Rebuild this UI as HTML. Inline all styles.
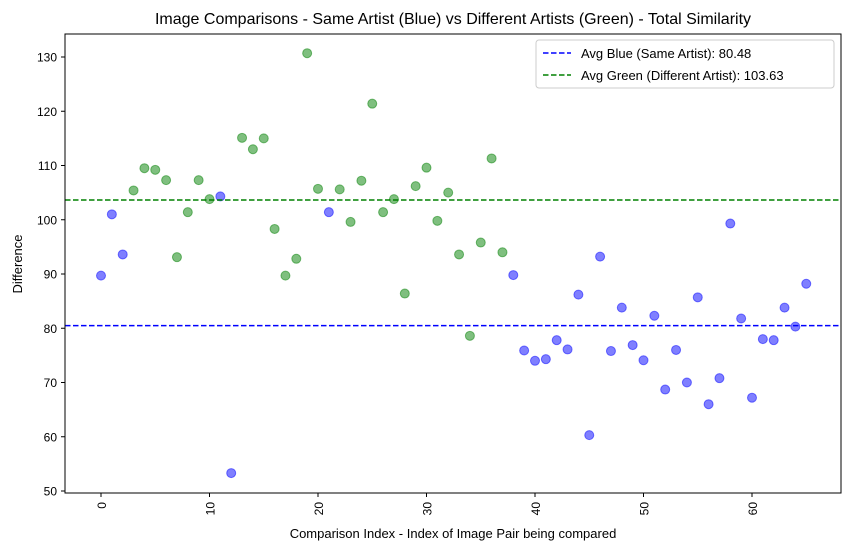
<!DOCTYPE html>
<html><head><meta charset="utf-8"><style>
body{margin:0;background:#fff;}
text{font-family:"Liberation Sans",sans-serif;fill:#000;}
</style></head><body>
<svg id="chart" width="850" height="551" xmlns="http://www.w3.org/2000/svg">
<rect width="850" height="551" fill="#fff"/>
<text x="453" y="24" font-size="16" text-anchor="middle">Image Comparisons - Same Artist (Blue) vs Different Artists (Green) - Total Similarity</text>
<text transform="translate(22,264) rotate(-90)" font-size="13" text-anchor="middle">Difference</text>
<text x="453" y="538" font-size="13" text-anchor="middle">Comparison Index - Index of Image Pair being compared</text>
<g id="axes"></g>
<g id="marks"></g>
<rect x="65" y="34" width="776" height="459" fill="none" stroke="#000" stroke-width="1"/>
<g>
<rect x="536" y="40" width="298" height="48" rx="3" fill="#fff" fill-opacity="0.8" stroke="#ccc"/>
<line x1="543" y1="53" x2="571" y2="53" stroke="#0000ff" stroke-width="1.5" stroke-dasharray="5.5,2.5"/>
<text x="581" y="58" font-size="13">Avg Blue (Same Artist): 80.48</text>
<line x1="543" y1="75" x2="571" y2="75" stroke="#008000" stroke-width="1.5" stroke-dasharray="5.5,2.5"/>
<text x="581" y="80" font-size="13">Avg Green (Different Artist): 103.63</text>
</g>
</svg>
<script>
const values=[89.7,101,93.6,105.4,109.5,109.2,107.3,93.1,101.4,107.3,103.8,104.3,53.3,115.1,113,115,98.3,89.7,92.8,130.7,105.7,101.4,105.6,99.6,107.2,121.4,101.4,103.8,86.4,106.2,109.6,99.8,105,93.6,78.6,95.8,111.3,94,89.8,75.9,74,74.3,77.8,76.1,86.2,60.3,93.2,75.8,83.8,76.9,74.1,82.3,68.7,76,70,85.7,66,70.8,99.3,81.8,67.2,78,77.8,83.8,80.3,88.2];
const groups=["b","b","b","g","g","g","g","g","g","g","g","b","b","g","g","g","g","g","g","g","g","b","g","g","g","g","g","g","g","g","g","g","g","g","g","g","g","g","b","b","b","b","b","b","b","b","b","b","b","b","b","b","b","b","b","b","b","b","b","b","b","b","b","b","b","b"];
const avgBlue=80.48, avgGreen=103.63;
const xTicks=[0,10,20,30,40,50,60];
const yTicks=[50,60,70,80,90,100,110,120,130];
const NS="http://www.w3.org/2000/svg";
const xs=v=>101+10.85*v;
const ys=v=>491-(v-50)*5.425;
const axes=document.getElementById('axes'), marks=document.getElementById('marks');
function mk(tag,attrs,parent){const e=document.createElementNS(NS,tag);for(const k in attrs)e.setAttribute(k,attrs[k]);parent.appendChild(e);return e;}
xTicks.forEach(t=>{
  const l=mk('line',{x1:xs(t),x2:xs(t),y1:493,y2:497,stroke:'#000'},axes);
  
  
  const tx=mk('text',{transform:`translate(${xs(t)+5},502) rotate(-90)`,'font-size':12,'text-anchor':'end'},axes);
  tx.textContent=t;
  
  
});
yTicks.forEach(t=>{
  const l=mk('line',{x1:61,x2:65,y1:ys(t),y2:ys(t),stroke:'#000'},axes);
  
  
  const tx=mk('text',{x:57,y:ys(t)+4.5,'font-size':12,'text-anchor':'end'},axes);
  tx.textContent=t;
  
  
});
values.forEach((v,i)=>{
  const c=mk('circle',{cx:xs(i),cy:ys(v),r:4.5,fill:groups[i]==='b'?'#0000ff':'#008000','fill-opacity':0.5,stroke:groups[i]==='b'?'#0000ff':'#008000','stroke-opacity':0.5},marks);
  
  
});
const lb=mk('line',{x1:65,x2:841,y1:ys(avgBlue),y2:ys(avgBlue),stroke:'#0000ff','stroke-width':1.5,'stroke-dasharray':'5.5,2.5'},marks);


const lg=mk('line',{x1:65,x2:841,y1:ys(avgGreen),y2:ys(avgGreen),stroke:'#008000','stroke-width':1.5,'stroke-dasharray':'5.5,2.5'},marks);


</script>
</body></html>
